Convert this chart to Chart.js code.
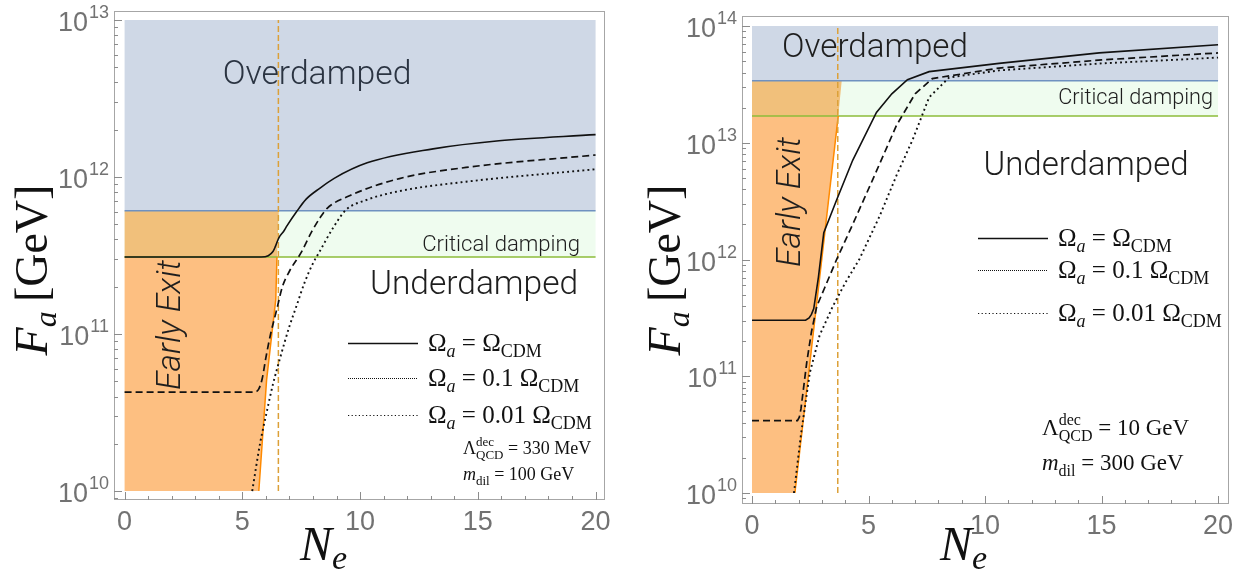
<!DOCTYPE html>
<html>
<head>
<meta charset="utf-8">
<script src="https://cdn.jsdelivr.net/npm/chart.js@4.4.1/dist/chart.umd.min.js"></script>
<style>
  html, body { margin: 0; padding: 0; background: #fff; }
  #wrap { position: relative; width: 1245px; height: 579px; }
  .panel { position: absolute; top: 0; height: 579px; }
  #left { left: 0; width: 620px; }
  #right { left: 620px; width: 625px; }
</style>
</head>
<body>
<div id="wrap">
  <div class="panel" id="left"><canvas id="leftChart"></canvas></div>
  <div class="panel" id="right"><canvas id="rightChart"></canvas></div>
</div>
<script>
// ---------- tick labels ----------
const neTicks = [0, 5, 10, 15, 20];
const leftDecades = [10, 11, 12, 13];
const rightDecades = [10, 11, 12, 13, 14];

// ---------- left panel: Lambda_QCD = 330 MeV, m_dil = 100 GeV ----------
const leftCdmNe = [0, 5.8, 6.1, 6.3, 6.4, 6.55, 6.75, 6.9, 7.3, 7.7, 8.3, 8.9, 10.3, 13.1, 15.9, 20];
const leftCdmFa = [3.09e11, 3.09e11, 3.15e11, 3.35e11, 3.6e11, 4.1e11, 4.5e11, 4.9e11, 6.0e11, 7.2e11, 8.5e11, 9.8e11, 1.23e12, 1.51e12, 1.70e12, 1.86e12];
const leftTenthNe = [0, 5.5, 5.7, 5.85, 6.0, 6.2, 6.45, 6.7, 7.0, 7.5, 7.94, 8.3, 8.6, 9.55, 11.67, 14.5, 20];
const leftTenthFa = [4.27e10, 4.27e10, 4.47e10, 5.25e10, 7.08e10, 1.0e11, 1.41e11, 2.0e11, 2.51e11, 3.31e11, 4.47e11, 5.5e11, 6.31e11, 7.59e11, 9.77e11, 1.15e12, 1.38e12];
const leftHundNe = [5.42, 5.75, 6.03, 6.3, 6.59, 7.0, 7.3, 7.65, 8.0, 8.3, 8.83, 9.4, 10.2, 11.67, 14.5, 20];
const leftHundFa = [1.0e10, 2.0e10, 3.16e10, 4.79e10, 6.92e10, 1.12e11, 1.51e11, 2.14e11, 2.82e11, 3.39e11, 4.68e11, 6.17e11, 7.08e11, 8.13e11, 9.33e11, 1.12e12];
const leftLevels = [1e10, 3.09e11, 6.1e11, 1e13];      // bottom, critical, overdamped, top
const leftExitNe = [5.7, 6.03, 6.42, 6.47, 6.55];
const leftExitFa = [1e10, 5.1e10, 1.66e11, 3.09e11, 6.1e11];
const leftExitLine = 6.53;

// ---------- right panel: Lambda_QCD = 10 GeV, m_dil = 300 GeV ----------
const rightCdmNe = [0, 2.3, 2.45, 2.55, 2.65, 2.85, 3.08, 3.63, 4.32, 5.34, 6.0, 6.67, 7.6, 10.6, 14.9, 20];
const rightCdmFa = [3.02e11, 3.02e11, 3.16e11, 3.39e11, 3.8e11, 7.08e11, 1.70e12, 3.24e12, 7.08e12, 1.82e13, 2.63e13, 3.47e13, 4.07e13, 4.79e13, 5.89e13, 6.92e13];
const rightTenthNe = [0, 1.95, 2.03, 2.1, 2.2, 2.35, 2.55, 2.78, 3.1, 3.63, 4.32, 5.17, 6.2, 7.0, 7.74, 10.6, 15, 20];
const rightTenthFa = [4.17e10, 4.17e10, 4.47e10, 5.25e10, 7.59e10, 1.32e11, 2.4e11, 3.98e11, 5.62e11, 1.0e12, 2.0e12, 4.79e12, 1.41e13, 2.63e13, 3.55e13, 4.37e13, 5.13e13, 5.89e13];
const rightHundNe = [1.8, 2.1, 2.48, 2.9, 3.47, 4.0, 4.6, 5.47, 6.2, 6.9, 7.6, 8.46, 10.6, 15, 20];
const rightHundFa = [1.0e10, 3.16e10, 1.07e11, 2.24e11, 3.98e11, 6.31e11, 1.0e12, 2.34e12, 5.25e12, 1.07e13, 2.45e13, 3.63e13, 4.17e13, 4.79e13, 5.37e13];
const rightLevels = [1e10, 1.7e13, 3.4e13, 1e14];
const rightExitNe = [1.84, 3.7, 3.85];
const rightExitFa = [1e10, 1.7e13, 3.4e13];
const rightExitLine = 3.68;

const neRange = [0, 20];

const serif = '"Liberation Serif", "DejaVu Serif", serif';
const sans = '"Liberation Sans", Arial, sans-serif';
const light = 'Roboto, "Liberation Sans", sans-serif';

function pts(xs, ys) {
    return xs.map((x, i) => ({ x: x, y: ys[i] }));
}

function region(points, color, order) {
    return {
        data: points, showLine: true, fill: 'shape', backgroundColor: color,
        borderColor: 'rgba(0,0,0,0)', borderWidth: 0, pointRadius: 0, tension: 0, order: order
    };
}

function curve(points, color, width, dash, order, smooth) {
    const ds = {
        data: points, showLine: true, fill: false, borderColor: color, borderWidth: width,
        borderDash: dash, pointRadius: 0, tension: 0, order: order
    };
    if (smooth) {
        ds.tension = 0.4;
        ds.cubicInterpolationMode = 'monotone';
    }
    return ds;
}

// draws a run of text pieces with their own fonts and offsets
function rich(ctx, parts, x, y, align) {
    let w = 0;
    parts.forEach(s => { ctx.font = s.f; if (!s.stay) w += ctx.measureText(s.t).width; });
    let cx = align === 'center' ? x - w / 2 : (align === 'right' ? x - w : x);
    ctx.textAlign = 'left';
    ctx.textBaseline = 'alphabetic';
    parts.forEach(s => {
        ctx.font = s.f;
        ctx.fillText(s.t, cx, y + (s.dy || 0));
        if (!s.stay) cx += ctx.measureText(s.t).width;
    });
}

// light sans text scaled so it spans the given width
function fitText(ctx, text, style, width, x, y) {
    ctx.font = `${style} 100px ${light}`;
    const size = 100 * width / ctx.measureText(text).width;
    ctx.font = `${style} ${size.toFixed(1)}px ${light}`;
    ctx.fillText(text, x, y);
}

function omegaParts(size, factor) {
    const big = `${size}px ${serif}`, small = `${Math.round(size * 0.7)}px ${serif}`;
    return [
        { t: 'Ω', f: big },
        { t: 'a', f: `italic ${small}`, dy: size * 0.22 },
        { t: ' = ' + factor, f: big },
        { t: 'Ω', f: big },
        { t: 'CDM', f: small, dy: size * 0.22 }
    ];
}

function decor(p) {
    return {
        id: 'decor',
        afterDatasetsDraw(chart) {
            const ctx = chart.ctx, area = chart.chartArea;
            const X = v => chart.scales.x.getPixelForValue(v);
            const Y = v => chart.scales.y.getPixelForValue(v);
            ctx.save();

            // frame
            ctx.strokeStyle = '#a6a6a6';
            ctx.lineWidth = 1;
            ctx.setLineDash([]);
            ctx.strokeRect(area.left + 0.5, area.top + 0.5, area.right - area.left - 1, area.bottom - area.top - 1);

            // inward ticks
            ctx.strokeStyle = '#8c8c8c';
            ctx.beginPath();
            for (let n = neRange[0]; n <= neRange[1]; n++) {
                const px = Math.round(X(n)) + 0.5;
                ctx.moveTo(px, area.bottom);
                ctx.lineTo(px, area.bottom - (n % 5 === 0 ? 8 : 4));
            }
            const d0 = p.decades[0], d1 = p.decades[p.decades.length - 1];
            for (let e = d0 - 1; e <= d1; e++) {
                for (let m = 1; m <= 9; m++) {
                    const v = m * 10 ** e;
                    if (v < p.yMin || v > p.yMax) continue;
                    const py = Math.round(Y(v)) + 0.5;
                    ctx.moveTo(area.left, py);
                    ctx.lineTo(area.left + (m === 1 ? 8 : 4), py);
                }
            }
            ctx.stroke();

            // tick labels
            ctx.fillStyle = '#727272';
            ctx.textBaseline = 'alphabetic';
            ctx.textAlign = 'center';
            ctx.font = `27px ${sans}`;
            neTicks.forEach(n => ctx.fillText(String(n), X(n), area.bottom + 30));
            p.decades.forEach(e => {
                const py = Y(10 ** e);
                ctx.textAlign = 'right';
                ctx.font = `18px ${sans}`;
                const right = area.left - 5;
                ctx.fillText(String(e), right, py - 2);
                const ew = ctx.measureText(String(e)).width;
                ctx.font = `27px ${sans}`;
                ctx.fillText('10', right - ew - 1, py + 11);
            });

            // axis titles
            ctx.fillStyle = '#111';
            rich(ctx, [
                { t: 'N', f: `italic 48px ${serif}` },
                { t: 'e', f: `italic 34px ${serif}`, dy: 9 }
            ], p.xTitle[0], p.xTitle[1], 'left');
            ctx.save();
            ctx.translate(p.yTitle[0], p.yTitle[1]);
            ctx.rotate(-Math.PI / 2);
            rich(ctx, [
                { t: 'F', f: `italic 46px ${serif}` },
                { t: 'a', f: `italic 32px ${serif}`, dy: 9 },
                { t: '\u2009[GeV]', f: `46px ${serif}` }
            ], 0, 0, 'center');
            ctx.restore();

            // region names
            ctx.textBaseline = 'middle';
            ctx.textAlign = 'center';
            ctx.fillStyle = p.overColor;
            fitText(ctx, 'Overdamped', '300', p.over[2], p.over[0], p.over[1]);
            ctx.fillStyle = '#1e1e1e';
            fitText(ctx, 'Underdamped', '300', p.under[2], p.under[0], p.under[1]);
            ctx.textAlign = 'right';
            fitText(ctx, 'Critical damping', '300', p.crit[2], p.crit[0], p.crit[1]);
            ctx.save();
            ctx.translate(p.exitLabel[0], p.exitLabel[1]);
            ctx.rotate(-Math.PI / 2);
            ctx.textAlign = 'center';
            fitText(ctx, 'Early Exit', 'italic 300', 130, 0, 0);
            ctx.restore();

            // legend
            const styles = [[[], 1.5], [[1, 1], 1], [[1.2, 2.4], 1.2]];
            const factors = ['', '0.1 ', '0.01 '];
            p.rows.forEach((ry, i) => {
                ctx.strokeStyle = '#111';
                ctx.setLineDash(styles[i][0]);
                ctx.lineWidth = styles[i][1];
                ctx.beginPath();
                ctx.moveTo(p.legX[0], ry + 0.5);
                ctx.lineTo(p.legX[1], ry + 0.5);
                ctx.stroke();
                ctx.fillStyle = '#111';
                rich(ctx, omegaParts(25, factors[i]), p.legX[2], ry + 8, 'left');
            });
            ctx.setLineDash([]);

            const s = p.parSize, big = `${s}px ${serif}`, small = `${Math.round(s * 0.7)}px ${serif}`;
            rich(ctx, [
                { t: 'Λ', f: big },
                { t: 'dec', f: small, dy: -s * 0.42, stay: true },
                { t: 'QCD', f: small, dy: s * 0.25 },
                { t: ' = ' + p.lambda, f: big }
            ], p.par[0], p.par[1], 'left');
            rich(ctx, [
                { t: 'm', f: `italic ${big}` },
                { t: 'dil', f: small, dy: s * 0.25 },
                { t: ' = ' + p.mass, f: big }
            ], p.par[0], p.par[2], 'left');

            ctx.restore();
        }
    };
}

function buildPanel(canvasId, p) {
    const lv = p.levels;
    const low = p.exit.filter(q => q.y <= lv[1]);
    const up = p.exit.filter(q => q.y >= lv[1]);
    const datasets = [
        region(pts([neRange[0], neRange[1], neRange[1], neRange[0]], [lv[3], lv[3], lv[2], lv[2]]), '#cfd8e6', 10),
        region(pts([neRange[0], neRange[1], neRange[1], neRange[0]], [lv[2], lv[2], lv[1], lv[1]]), '#effcef', 9),
        region([{ x: neRange[0], y: lv[0] }].concat(low.map(q => ({ x: q.x, y: q.y })), [{ x: neRange[0], y: lv[1] }]), '#fdbf81', 8),
        region([{ x: neRange[0], y: lv[1] }].concat(up.map(q => ({ x: q.x, y: q.y })), [{ x: neRange[0], y: lv[2] }]), '#f1c07b', 8),
        curve(pts(neRange, [lv[2], lv[2]]), '#6f91c0', 1.5, [], 6),
        curve(pts(neRange, [lv[1], lv[1]]), '#8cbd3a', 1.5, [], 6),
        curve(low.map(q => ({ x: q.x, y: q.y })), '#ff8a00', 1.5, [], 5),
        curve(pts([p.exitLine, p.exitLine], [lv[0], lv[3]]), '#dca038', 1.5, [6, 3], 4),
        curve(p.hund, '#111', 1.9, [1.9, 3.2], 3, p.smooth),
        curve(p.tenth, '#111', 1.7, [7, 4], 2, p.smooth),
        curve(p.cdm, '#111', 1.6, [], 1, p.smooth)
    ];
    new Chart(document.getElementById(canvasId), {
        type: 'scatter',
        data: { datasets: datasets },
        options: {
            responsive: true,
            maintainAspectRatio: false,
            animation: false,
            events: [],
            layout: { padding: p.pad },
            plugins: { legend: { display: false }, tooltip: { enabled: false } },
            scales: {
                x: { type: 'linear', min: p.xMin, max: p.xMax, display: false },
                y: { type: 'logarithmic', min: p.yMin, max: p.yMax, display: false }
            }
        },
        plugins: [decor(p)]
    });
}

buildPanel('leftChart', {
    pad: { left: 114, right: 15, top: 11, bottom: 79 },
    xMin: -0.45, xMax: 20.4, yMin: 8.77e9, yMax: 1.14e13, smooth: true,
    decades: leftDecades, levels: leftLevels,
    exit: pts(leftExitNe, leftExitFa), exitLine: leftExitLine,
    cdm: pts(leftCdmNe, leftCdmFa), tenth: pts(leftTenthNe, leftTenthFa), hund: pts(leftHundNe, leftHundFa),
    xTitle: [300, 560], yTitle: [47, 270],
    overColor: '#2b3442', over: [317, 76, 189], under: [474, 286, 208], crit: [580, 245, 158], exitLabel: [172, 325],
    rows: [343, 378, 415], legX: [348, 418, 428],
    parSize: 18, par: [463, 454, 480], lambda: '330 MeV', mass: '100 GeV'
});

buildPanel('rightChart', {
    pad: { left: 122, right: 16, top: 16, bottom: 75 },
    xMin: -0.43, xMax: 20.47, yMin: 8.05e9, yMax: 1.22e14, smooth: false,
    decades: rightDecades, levels: rightLevels,
    exit: pts(rightExitNe, rightExitFa), exitLine: rightExitLine,
    cdm: pts(rightCdmNe, rightCdmFa), tenth: pts(rightTenthNe, rightTenthFa), hund: pts(rightHundNe, rightHundFa),
    xTitle: [320, 560], yTitle: [60, 270],
    overColor: '#1e1e1e', over: [255, 49, 186], under: [466, 167, 205], crit: [593, 99, 155], exitLabel: [172, 202],
    rows: [238, 270, 313], legX: [358, 428, 438],
    parSize: 23, par: [422, 435, 470], lambda: '10 GeV', mass: '300 GeV'
});
</script>
</body>
</html>
